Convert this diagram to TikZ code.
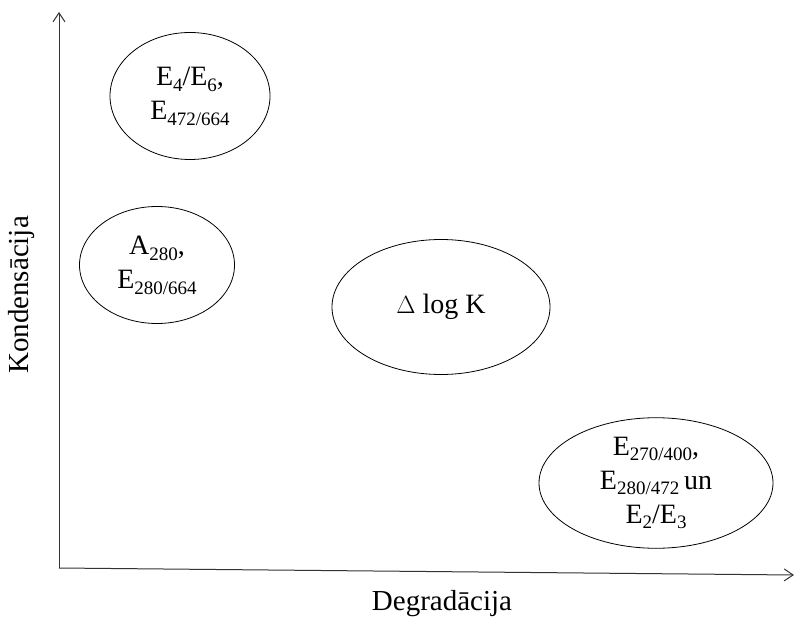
\documentclass[tikz,border=0pt]{standalone}
\usepackage{fontspec}
\setmainfont{Liberation Serif}
\usetikzlibrary{shapes.geometric,arrows.meta}
\newcommand\sbx[1]{\raisebox{-0.45ex}{\fontsize{19}{19}\selectfont #1}}
\begin{document}
\begin{tikzpicture}[x=1pt,y=-1pt,
  ell/.style={draw,thick,ellipse,inner sep=0pt,align=center,font=\fontsize{28}{34}\selectfont},
  axis/.style={draw=black!80,line width=1pt,-{Straight Barb[length=9pt,width=12pt]}},
  lab/.style={font=\fontsize{29}{34}\selectfont}]
\useasboundingbox (0,0) rectangle (794,617);
\coordinate (o) at (59,568);
\coordinate (ytop) at (59,12);
\coordinate (xend) at (794,575);
\draw[axis] (o) -- (ytop);
\draw[axis] (o) -- (xend);
\node[ell,minimum width=160,minimum height=127] (e1) at (190,96) {E\sbx{4}/E\sbx{6},\\E\sbx{472/664}};
\node[ell,minimum width=155,minimum height=117] (e2) at (157,265) {A\sbx{280},\\E\sbx{280/664}};
\node[ell,minimum width=218,minimum height=135] (e3) at (441,307) {$\Delta$ log K};
\node[ell,minimum width=234,minimum height=130] (e4) at (656,483) {E\sbx{270/400},\\E\sbx{280/472}\,un\\E\sbx{2}/E\sbx{3}};
\node[lab,rotate=90] (ylab) at (22,295) {Kondensācija};
\node[lab] (xlab) at (442,604) {Degradācija};
\end{tikzpicture}
\end{document}
